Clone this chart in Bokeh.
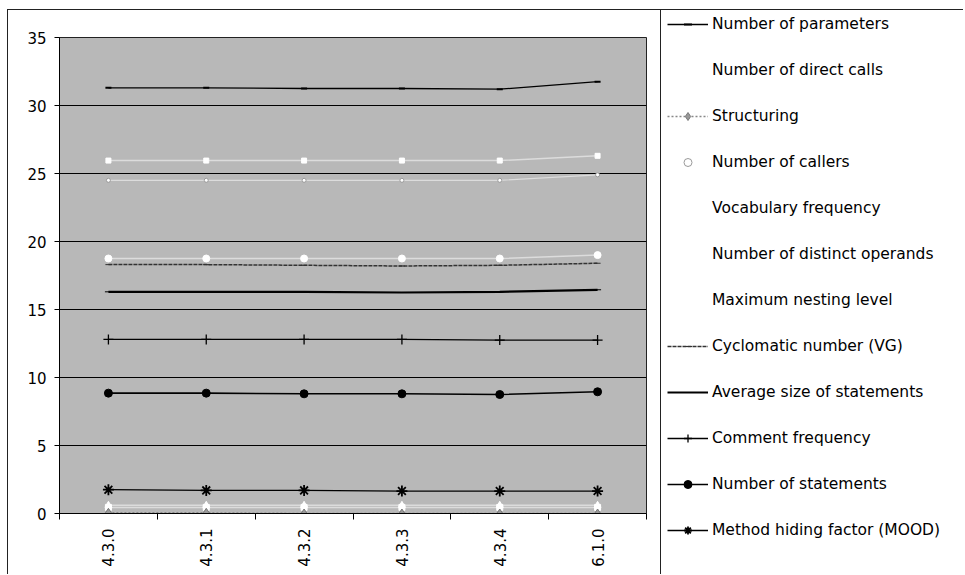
from math import pi
from bokeh.plotting import figure
from bokeh.layouts import row
from bokeh.models import (ColumnDataSource, Legend, LegendItem, FixedTicker,
                          LinearAxis, Range1d)
from bokeh.embed import file_html
from bokeh.resources import INLINE

versions = ["4.3.0", "4.3.1", "4.3.2", "4.3.3", "4.3.4", "6.1.0"]
y_ticks = [0, 5, 10, 15, 20, 25, 30, 35]

number_of_parameters = [31.3, 31.3, 31.25, 31.25, 31.2, 31.75]
number_of_direct_calls = [25.95, 25.95, 25.95, 25.95, 25.95, 26.3]
structuring = [0.05, 0.05, 0.0, 0.0, 0.0, 0.0]
number_of_callers = [24.5, 24.5, 24.5, 24.5, 24.5, 24.9]
vocabulary_frequency = [18.75, 18.75, 18.75, 18.75, 18.75, 19.0]
number_of_distinct_operands = [0.6, 0.6, 0.6, 0.6, 0.6, 0.6]
maximum_nesting_level = [0.45, 0.45, 0.45, 0.45, 0.45, 0.45]
cyclomatic_number = [18.3, 18.3, 18.25, 18.2, 18.25, 18.4]
average_size_of_statements = [16.3, 16.3, 16.3, 16.25, 16.3, 16.45]
comment_frequency = [12.8, 12.8, 12.8, 12.8, 12.75, 12.75]
number_of_statements = [8.85, 8.85, 8.8, 8.8, 8.75, 8.95]
method_hiding_factor = [1.75, 1.7, 1.7, 1.65, 1.65, 1.65]

x = list(range(len(versions)))
bounds = [i - 0.5 for i in range(len(versions) + 1)]

FONT = "DejaVu Sans"
BORDER = {"border-top": "1px solid #222", "border-left": "1px solid #222"}

p = figure(width=653, height=565, output_backend="svg", toolbar_location=None,
           x_range=Range1d(-0.5, len(versions) - 0.5), y_range=Range1d(0, 35),
           x_axis_location=None, min_border_left=51, min_border_right=15,
           min_border_top=27, min_border_bottom=62, styles=BORDER)
p.background_fill_color = "#b8b8b8"
p.border_fill_color = "white"
p.outline_line_color = "#222222"
p.outline_line_width = 1

p.xgrid.visible = False
p.ygrid.ticker = FixedTicker(ticks=y_ticks)
p.ygrid.grid_line_color = "black"
p.ygrid.grid_line_width = 1

yax = p.yaxis[0]
yax.ticker = FixedTicker(ticks=y_ticks)
yax.axis_line_color = "black"
yax.major_tick_line_color = "black"
yax.major_tick_out = 5
yax.major_tick_in = 0
yax.minor_tick_line_color = None
yax.major_label_standoff = 8
yax.major_label_text_font = FONT
yax.major_label_text_font_size = "15px"
yax.major_label_text_color = "black"

xax = LinearAxis(ticker=FixedTicker(ticks=x, minor_ticks=bounds),
                 major_label_overrides={i: v for i, v in enumerate(versions)},
                 major_label_orientation=pi / 2, axis_line_color="black",
                 major_tick_line_color=None, major_tick_out=0, major_tick_in=0,
                 minor_tick_line_color="black", minor_tick_out=6, minor_tick_in=0,
                 major_label_standoff=9, major_label_text_font=FONT,
                 major_label_text_font_size="15px", major_label_text_color="black")
p.add_layout(xax, "below")

src = ColumnDataSource(dict(
    x=x, params=number_of_parameters, direct=number_of_direct_calls,
    struct=structuring, callers=number_of_callers, vocab=vocabulary_frequency,
    operands=number_of_distinct_operands, nesting=maximum_nesting_level,
    vg=cyclomatic_number, avgsize=average_size_of_statements,
    comment=comment_frequency, stmts=number_of_statements, mood=method_hiding_factor))

# legend panel: a second canvas whose ranges keep the sample renderers out of view
q = figure(width=303, height=565, output_backend="svg", toolbar_location=None,
           title=None, x_range=Range1d(100, 101), y_range=Range1d(100, 101),
           x_axis_location=None, y_axis_location=None, min_border=0,
           min_border_left=0, min_border_right=0, min_border_top=0,
           min_border_bottom=0, styles=BORDER)
q.grid.visible = False
q.outline_line_color = None
q.background_fill_color = "white"
q.border_fill_color = "white"

styles = {
    "Number of direct calls": ("direct", "white", 1.5, "solid", "square", 5, "white", "white", 1, 0.5),
    "Number of callers": ("callers", "white", 1.2, "solid", "circle", 4, "#9a9a9a", "white", 1, 0.5),
    "Vocabulary frequency": ("vocab", "white", 1.5, "solid", "circle", 7, "white", "white", 1, 0.5),
    "Number of distinct operands": ("operands", "white", 1.5, "solid", "triangle", 7, "white", "white", 1, 0.5),
    "Maximum nesting level": ("nesting", "white", 1.5, "solid", "square", 6, "white", "white", 1, 0.5),
    "Structuring": ("struct", "#888888", 1.5, "2 2", "diamond", 9, "#777777", "#999999", 1, 1.0),
    "Cyclomatic number (VG)": ("vg", "#333333", 1.5, "4 1", "dash", 6, "#333333", "#333333", 1, 1.0),
    "Average size of statements": ("avgsize", "black", 2.2, "solid", "dash", 7, "black", "black", 1, 1.0),
    "Number of parameters": ("params", "black", 1.3, "solid", "dash", 6, "black", "black", 2, 1.0),
    "Comment frequency": ("comment", "black", 1.3, "solid", "cross", 10, "black", "black", 1.3, 1.0),
    "Number of statements": ("stmts", "black", 1.6, "solid", "circle", 8, "black", "black", 1, 1.0),
    "Method hiding factor (MOOD)": ("mood", "black", 1.3, "solid", "asterisk", 11, "black", "black", 1.8, 1.0),
}

def series(fig, col, lc, lw, dash, marker, ms, mline, mfill, mlw, alpha):
    return [fig.line("x", col, source=src, line_color=lc, line_width=lw,
                     line_dash=dash, line_alpha=alpha),
            fig.scatter("x", col, source=src, marker=marker, size=ms,
                        line_color=mline, fill_color=mfill, line_width=mlw)]

for name, st in styles.items():
    series(p, *st)

order = ["Number of parameters", "Number of direct calls", "Structuring",
         "Number of callers", "Vocabulary frequency", "Number of distinct operands",
         "Maximum nesting level", "Cyclomatic number (VG)", "Average size of statements",
         "Comment frequency", "Number of statements", "Method hiding factor (MOOD)"]

legend_items = []
for name in order:
    st = styles[name]
    rs = series(q, *st)
    legend_items.append(LegendItem(label=name, renderers=rs))

legend = Legend(items=legend_items, location=(6, -27), glyph_width=41, glyph_height=20,
                label_height=20, spacing=26, label_standoff=4, padding=0, margin=0,
                nrows=12, border_line_color=None, background_fill_alpha=0,
                label_text_font=FONT, label_text_font_size="15.5px",
                label_text_color="black")
q.add_layout(legend, "left")

layout = row(p, q, styles={"margin-top": "9px", "margin-left": "7px"})

open("out.html", "w").write(file_html(layout, INLINE))
